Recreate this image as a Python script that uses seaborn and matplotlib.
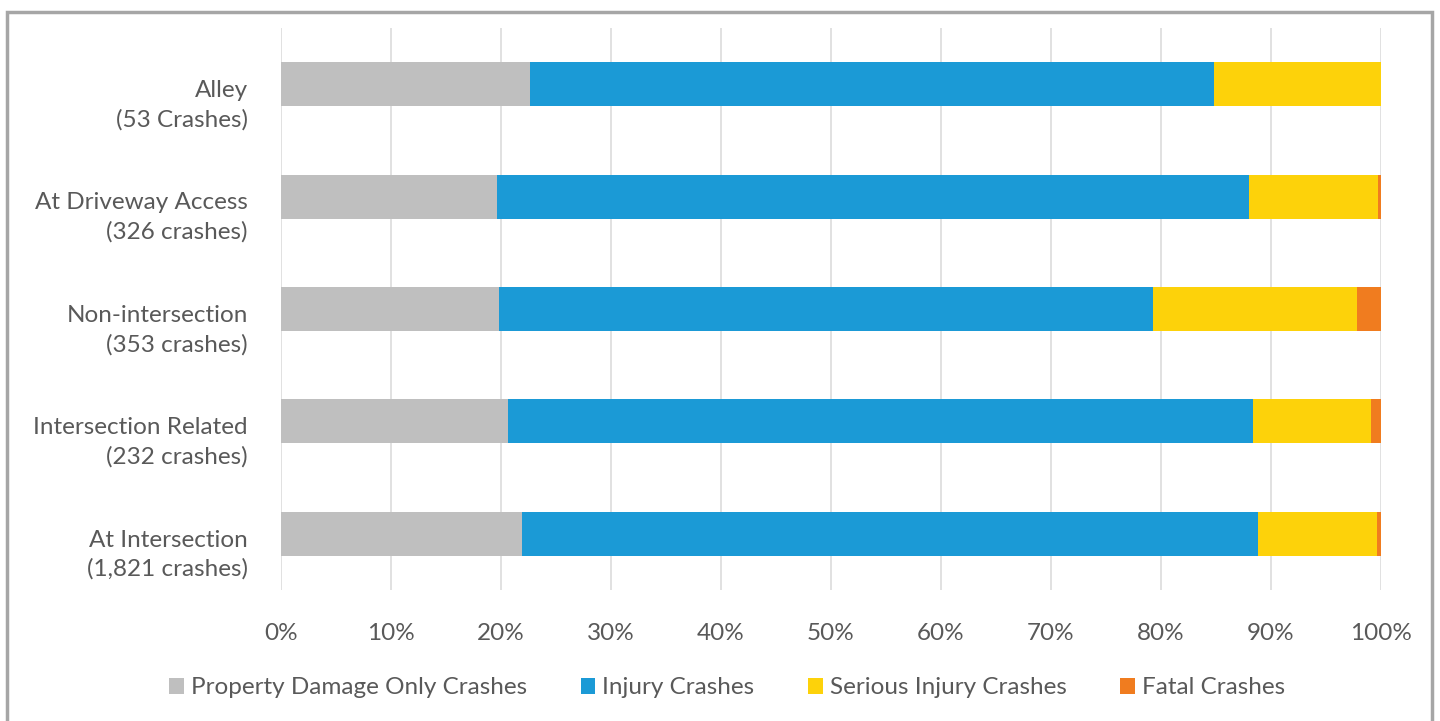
import pandas as pd
import seaborn as sns
import numpy as np
import matplotlib
matplotlib.use('Agg')
from matplotlib import pyplot as plt
from matplotlib.patches import Rectangle, Patch
from matplotlib.transforms import ScaledTranslation

sns.set_style('white')
plt.rcParams['font.family'] = ['Lato', 'DejaVu Sans']

# data (percent of crashes)
locations = ['Alley\n(53 Crashes)', 'At Driveway Access\n(326 crashes)',
             'Non-intersection\n(353 crashes)', 'Intersection Related\n(232 crashes)',
             'At Intersection\n(1,821 crashes)']
pdo = [22.6, 19.6, 19.8, 20.6, 21.9]
injury = [62.2, 68.4, 59.5, 67.8, 66.9]
serious = [15.2, 11.7, 18.5, 10.7, 10.8]
fatal = [0.0, 0.3, 2.2, 0.9, 0.4]

series = ['Property Damage Only Crashes', 'Injury Crashes', 'Serious Injury Crashes', 'Fatal Crashes']
colors = ['#BFBFBF', '#1B9AD6', '#FDD20A', '#F07C1F']
xticks = [0, 10, 20, 30, 40, 50, 60, 70, 80, 90, 100]

df = pd.DataFrame({'loc': locations, series[0]: pdo, series[1]: injury,
                   series[2]: serious, series[3]: fatal})
cum = df[series].cumsum(axis=1)

fig = plt.figure(figsize=(14.4, 7.21), dpi=100)
ax = fig.add_axes([281/1440, 1-590/721, 1100/1440, 562/721])

# layered bars: draw cumulative totals from the last segment backwards
for s, c in reversed(list(zip(series, colors))):
    sns.barplot(x=cum[s], y=df['loc'], color=c, width=0.39, ax=ax,
                saturation=1, linewidth=0, zorder=3)

ax.set_xlim(0, 100)
ax.set_ylim(4.5, -0.5)
ax.set_xticks(xticks)
ax.set_xticklabels([f'{t}%' for t in xticks])
ax.xaxis.grid(True, color='#D9D9D9', linewidth=1.1, zorder=0)
ax.set_axisbelow(True)
for sp in ax.spines.values():
    sp.set_visible(False)
ax.set_xlabel('')
ax.set_ylabel('')
ax.tick_params(axis='y', length=0, pad=24, labelsize=17.5, labelcolor='#595959')
ax.tick_params(axis='x', length=0, pad=24, labelsize=17.5, labelcolor='#595959')

# Excel sits the two-line labels a bit below the bar centre
shift = ScaledTranslation(0, -0.15, fig.dpi_scale_trans)
for tick in ax.yaxis.get_major_ticks():
    tick.label1.set_linespacing(1.45)
    tick.label1.set_transform(tick.label1.get_transform() + shift)

handles = [Patch(facecolor=c, edgecolor='none') for c in colors]
fig.legend(handles, series, loc='center', bbox_to_anchor=(0.505, 1-688/721), ncol=4,
           frameon=False, fontsize=17.5, labelcolor='#595959', handlelength=0.6,
           handleheight=0.6, handletextpad=0.3, columnspacing=2.2)

# outer frame
fig.patches.append(Rectangle((7/1440, -0.05), 1425/1440, 1.05-12/721, transform=fig.transFigure,
                             fill=False, edgecolor='#A6A6A6', linewidth=2.5))

fig.savefig('out.png', dpi=100)
